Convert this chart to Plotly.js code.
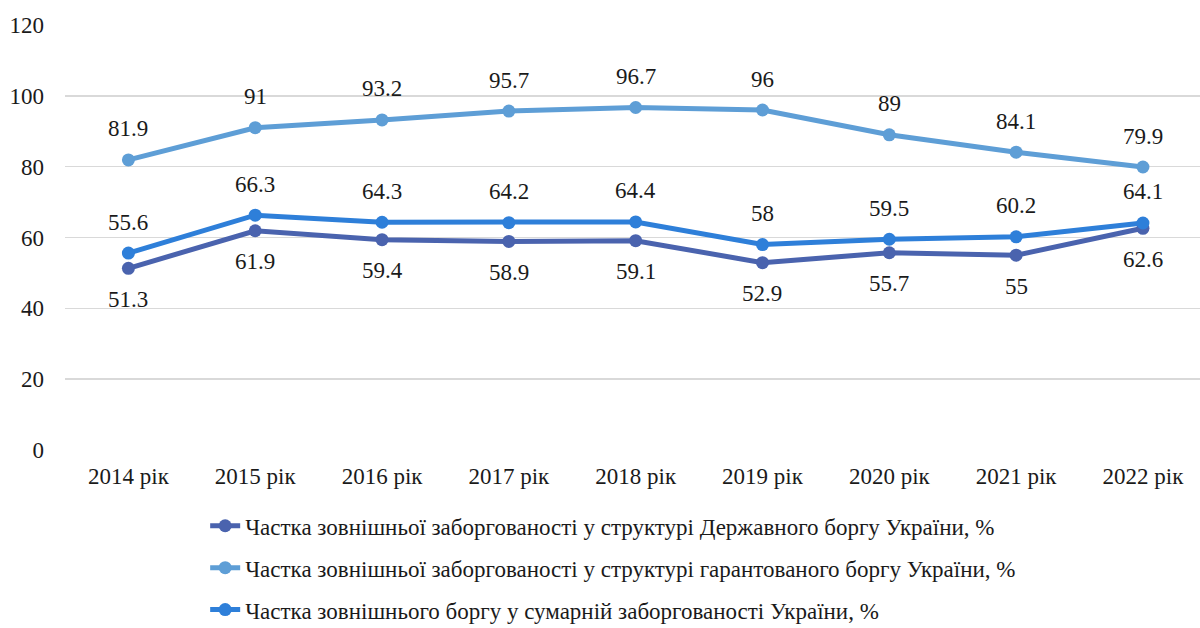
<!DOCTYPE html>
<html>
<head>
<meta charset="utf-8">
<script src="https://cdn.plot.ly/plotly-3.0.1.min.js"></script>
<style>
  html, body { margin: 0; padding: 0; background: #fff; }
  #chart { width: 1200px; height: 628px; }
</style>
</head>
<body>
<div id="chart"></div>
<script>
// Years on the category axis
const years = ['2014 рік', '2015 рік', '2016 рік', '2017 рік', '2018 рік', '2019 рік', '2020 рік', '2021 рік', '2022 рік'];

// Share of external debt in the structure of the state debt, %
const stateDebtShare = [51.3, 61.9, 59.4, 58.9, 59.1, 52.9, 55.7, 55, 62.6];
// Share of external debt in the structure of the guaranteed debt, %
const guaranteedDebtShare = [81.9, 91, 93.2, 95.7, 96.7, 96, 89, 84.1, 79.9];
// Share of external debt in the total debt, %
const totalDebtShare = [55.6, 66.3, 64.3, 64.2, 64.4, 58, 59.5, 60.2, 64.1];

const seriesNames = [
  'Частка зовнішньої заборгованості у структурі Державного боргу України, %',
  'Частка зовнішньої заборгованості у структурі гарантованого боргу України, %',
  'Частка зовнішнього боргу у сумарній заборгованості України, %'
];

const FONT = 'Liberation Serif, DejaVu Serif, Tinos, serif';
const FONT_SIZE = 23;
const colors = ['#4A63AE', '#5E9ED6', '#2E7FD9'];

const seriesValues = [stateDebtShare, guaranteedDebtShare, totalDebtShare];
// Label placement per series: -1 below the point, +1 above it
const labelSide = [-1, 1, 1];

const traces = seriesValues.map((vals, i) => ({
  type: 'scatter',
  mode: 'lines+markers',
  x: years,
  y: vals,
  name: seriesNames[i],
  legendgroup: 'g' + i,
  line: { color: colors[i], width: 5 },
  marker: { color: colors[i], size: 13 },
  hoverinfo: 'skip'
}));

// Value labels placed relative to each point
const annotations = [];
seriesValues.forEach((vals, i) => {
  vals.forEach((v, j) => {
    annotations.push({
      x: years[j],
      y: v,
      xref: 'x',
      yref: 'y',
      text: String(v),
      showarrow: false,
      yshift: labelSide[i] * 31,
      font: { family: FONT, size: FONT_SIZE, color: '#1a1a1a' }
    });
  });
});

const layout = {
  width: 1200,
  height: 628,
  margin: { l: 65, r: 0, t: 25, b: 178 },
  paper_bgcolor: '#ffffff',
  plot_bgcolor: '#ffffff',
  font: { family: FONT, size: FONT_SIZE, color: '#1a1a1a' },
  showlegend: true,
  legend: {
    orientation: 'v',
    xref: 'paper',
    x: 0.1235,
    xanchor: 'left',
    yref: 'container',
    y: 0.197,
    yanchor: 'top',
    traceorder: 'grouped',
    tracegroupgap: 9,
    font: { family: FONT, size: FONT_SIZE, color: '#1a1a1a' },
    bgcolor: 'rgba(0,0,0,0)'
  },
  xaxis: {
    type: 'category',
    range: [-0.5, 8.45],
    showgrid: false,
    zeroline: false,
    showline: false,
    ticks: '',
    ticklabelstandoff: 10,
    tickfont: { family: FONT, size: FONT_SIZE, color: '#1a1a1a' },
    fixedrange: true
  },
  yaxis: {
    range: [0, 120],
    dtick: 20,
    showgrid: true,
    gridcolor: '#D9D9D9',
    gridwidth: 1.5,
    zeroline: false,
    showline: false,
    ticks: '',
    ticklabelstandoff: 20,
    tickfont: { family: FONT, size: FONT_SIZE, color: '#1a1a1a' },
    fixedrange: true
  },
  annotations: annotations
};

Plotly.newPlot('chart', traces, layout, { staticPlot: true, displayModeBar: false });
</script>
</body>
</html>
